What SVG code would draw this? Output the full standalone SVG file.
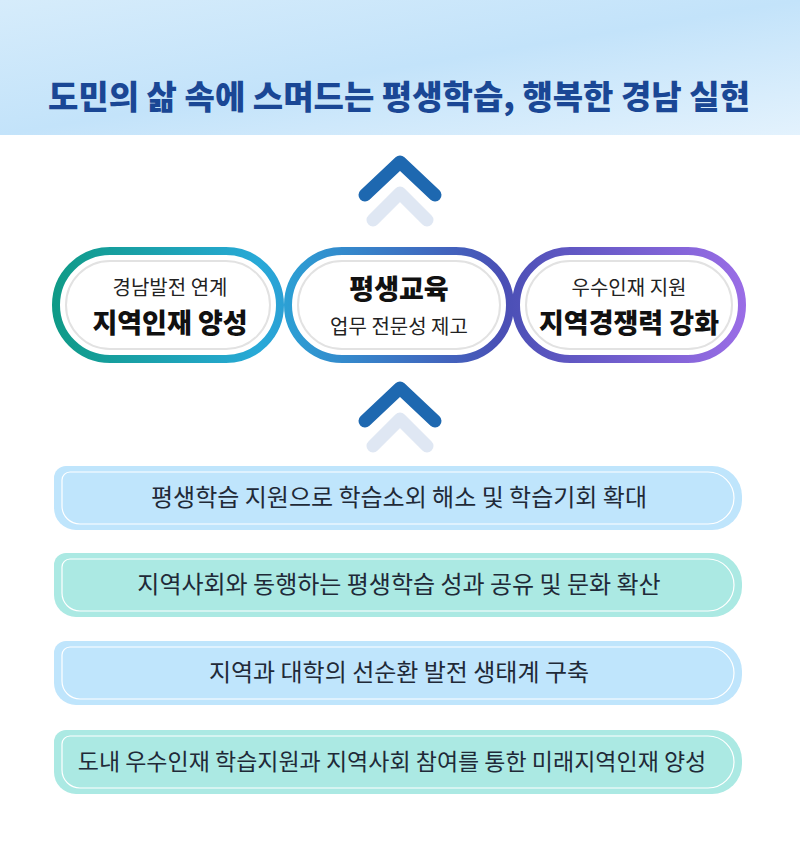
<svg xmlns="http://www.w3.org/2000/svg" width="800" height="857" viewBox="0 0 800 857">
<style>
text{font-family:"Noto Sans CJK KR","Noto Sans",sans-serif;text-anchor:middle}
.t{font-size:24px;fill:#1f2a38}
.s{font-size:20px;fill:#222}
.b{font-size:27px;font-weight:900;fill:#111}
.ch{fill:none;stroke:#1e68b0;stroke-width:13;stroke-linecap:round;stroke-linejoin:round}
.cl{fill:none;stroke:#dfe7f3;stroke-width:13;stroke-linecap:round;stroke-linejoin:round}
.inner{fill:#fff;stroke:#e2e2e2;stroke-width:2}
</style>
<defs>
<linearGradient id="hd" x1="0" y1="0" x2="1" y2="1"><stop offset="0" stop-color="#d6ecfb"/><stop offset="0.5" stop-color="#c3e3fa"/><stop offset="1" stop-color="#e3f2fd"/></linearGradient>
<linearGradient id="g" gradientUnits="userSpaceOnUse" x1="52" y1="0" x2="745" y2="0"><stop offset="0" stop-color="#0f9a86"/><stop offset="0.3" stop-color="#28a9d8"/><stop offset="0.65" stop-color="#4a4fb5"/><stop offset="1" stop-color="#9a6de6"/></linearGradient>
</defs>
<rect width="800" height="857" fill="#fff"/>
<rect width="800" height="135" fill="url(#hd)"/>
<text x="399" y="109" style="font-size:33px;font-weight:900;fill:#1a4795">도민의 삶 속에 스며드는 평생학습, 행복한 경남 실현</text>
<g id="connectors">
<polyline class="cl" points="373,220 400,193 427,220"/>
<polyline class="ch" points="365,195 400,162 435,195"/>
<polyline class="cl" points="373,446 400,419 427,446"/>
<polyline class="ch" points="365,421 400,388 435,421"/>
</g>
<g id="n1"><rect x="56" y="251" width="224" height="108" rx="54" fill="#fff" stroke="url(#g)" stroke-width="8"/><rect x="66" y="261" width="204" height="88" rx="44" class="inner"/>
<text x="170" y="295" class="s">경남발전 연계</text><text x="170" y="333" class="b">지역인재 양성</text></g>
<g id="n2"><rect x="288" y="251" width="222" height="108" rx="54" fill="#fff" stroke="url(#g)" stroke-width="8"/><rect x="298" y="261" width="202" height="88" rx="44" class="inner"/>
<text x="399" y="299" class="b">평생교육</text><text x="399" y="334" class="s">업무 전문성 제고</text></g>
<g id="n3"><rect x="516" y="251" width="226" height="108" rx="54" fill="#fff" stroke="url(#g)" stroke-width="8"/><rect x="526" y="261" width="206" height="88" rx="44" class="inner"/>
<text x="629" y="295" class="s">우수인재 지원</text><text x="629" y="333" class="b">지역경쟁력 강화</text></g>
<g id="r1"><path d="M66,466 H712 A30,30 0 0 1 742,496 V500 A30,30 0 0 1 712,530 H76 A22,22 0 0 1 54,508 V478 A12,12 0 0 1 66,466 Z" fill="#bfe5fc"/><path d="M70,472 H708 A26,26 0 0 1 734,498 A26,26 0 0 1 708,524 H80 A18,18 0 0 1 62,506 V480 A8,8 0 0 1 70,472 Z" fill="none" stroke="#fff" stroke-width="1.2"/><text x="399" y="506" class="t">평생학습 지원으로 학습소외 해소 및 학습기회 확대</text></g>
<g id="r2"><path d="M66,553 H712 A30,30 0 0 1 742,583 V587 A30,30 0 0 1 712,617 H76 A22,22 0 0 1 54,595 V565 A12,12 0 0 1 66,553 Z" fill="#abe9e3"/><path d="M70,559 H708 A26,26 0 0 1 734,585 A26,26 0 0 1 708,611 H80 A18,18 0 0 1 62,593 V567 A8,8 0 0 1 70,559 Z" fill="none" stroke="#fff" stroke-width="1.2"/><text x="399" y="593" class="t">지역사회와 동행하는 평생학습 성과 공유 및 문화 확산</text></g>
<g id="r3"><path d="M66,641 H712 A30,30 0 0 1 742,671 V675 A30,30 0 0 1 712,705 H76 A22,22 0 0 1 54,683 V653 A12,12 0 0 1 66,641 Z" fill="#bfe5fc"/><path d="M70,647 H708 A26,26 0 0 1 734,673 A26,26 0 0 1 708,699 H80 A18,18 0 0 1 62,681 V655 A8,8 0 0 1 70,647 Z" fill="none" stroke="#fff" stroke-width="1.2"/><text x="399" y="681" class="t">지역과 대학의 선순환 발전 생태계 구축</text></g>
<g id="r4"><path d="M66,730 H712 A30,30 0 0 1 742,760 V764 A30,30 0 0 1 712,794 H76 A22,22 0 0 1 54,772 V742 A12,12 0 0 1 66,730 Z" fill="#abe9e3"/><path d="M70,736 H708 A26,26 0 0 1 734,762 A26,26 0 0 1 708,788 H80 A18,18 0 0 1 62,770 V744 A8,8 0 0 1 70,736 Z" fill="none" stroke="#fff" stroke-width="1.2"/><text x="392" y="770" class="t" style="font-size:23px">도내 우수인재 학습지원과 지역사회 참여를 통한 미래지역인재 양성</text></g>
</svg>
